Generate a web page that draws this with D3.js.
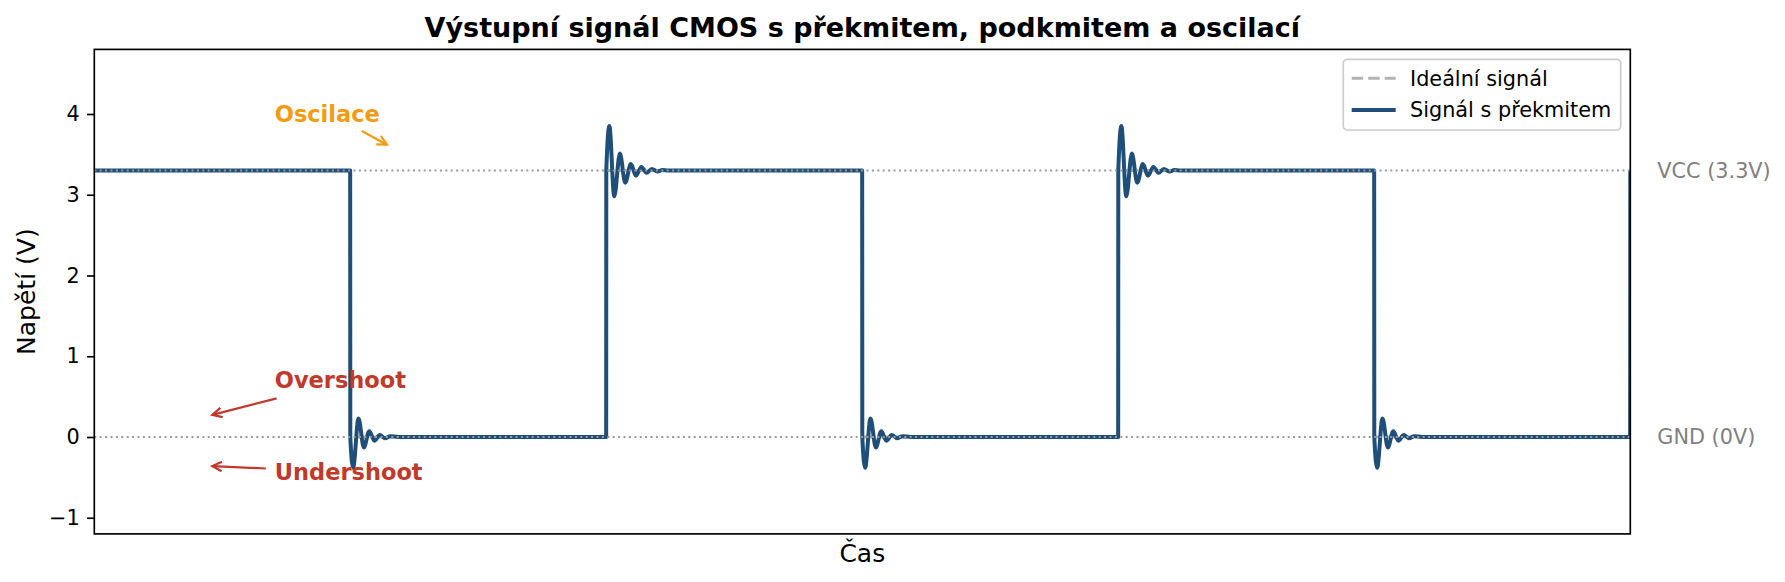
<!DOCTYPE html>
<html>
<head>
<meta charset="utf-8">
<script src="https://cdn.jsdelivr.net/npm/d3@7"></script>
<style>
  body { margin: 0; background: #fff; }
  svg { display: block; font-family: "DejaVu Sans", sans-serif; }
</style>
</head>
<body>
<div id="graph"></div>
<script>
// signal levels (V)
var levelHigh = 3.3;
var levelLow = 0;

// switching edges (time units, one half period = 1)
var edgeTimes = [1, 2, 3, 4, 5, 6];
var edgeKinds = ["fall", "rise", "fall", "rise", "fall", "rise"];

var riseRinging = [
  [0.000, 3.30], [0.012, 3.85], [0.031, 2.98], [0.053, 3.51], [0.074, 3.15],
  [0.096, 3.38], [0.116, 3.235], [0.137, 3.345], [0.157, 3.272], [0.178, 3.32],
  [0.199, 3.288], [0.219, 3.305], [0.242, 3.30]
];

var fallRinging = [
  [0.000, 0.00], [0.011, -0.38], [0.032, 0.23], [0.053, -0.13], [0.074, 0.07],
  [0.094, -0.045], [0.115, 0.025], [0.136, -0.016], [0.156, 0.01], [0.188, 0.00]
];

// y axis ticks
var yTicks = [-1, 0, 1, 2, 3, 4];

// set the dimensions of the graph
var svgWidth = 1785, svgHeight = 582;
var plotLeft = 94.3, plotRight = 1630.3, plotTop = 49.4, plotBottom = 533.9;

// set the ranges
var graphX = d3.scaleLinear().domain([0, 6]).range([plotLeft, plotRight]);
var graphY = d3.scaleLinear().domain([-1.2, 4.8]).range([plotBottom, plotTop]);

// build the ideal square wave and the real signal from the readings
var idealData = [[0, levelHigh]];
var signalData = [[0, levelHigh]];
var level = levelHigh;
edgeTimes.forEach(function(t, i) {
  var next = edgeKinds[i] == "rise" ? levelHigh : levelLow;
  idealData.push([t, level]);
  idealData.push([t, next]);
  signalData.push([t - 0.0005, level]);
  if (t < 6) {
    var ring = edgeKinds[i] == "rise" ? riseRinging : fallRinging;
    ring.forEach(function(p) { signalData.push([t + p[0], p[1]]); });
  } else {
    signalData.push([t, next]);
  }
  level = next;
});

var idealLine = d3.line()
  .x(function(d) { return graphX(d[0]); })
  .y(function(d) { return graphY(d[1]); });

var signalLine = d3.line()
  .curve(d3.curveMonotoneX)
  .x(function(d) { return graphX(d[0]); })
  .y(function(d) { return graphY(d[1]); });

var svg = d3.select("#graph")
  .append("svg")
  .attr("width", svgWidth)
  .attr("height", svgHeight);

svg.append("defs").append("clipPath")
  .attr("id", "plot_clip")
  .append("rect")
  .attr("x", plotLeft)
  .attr("y", plotTop)
  .attr("width", plotRight - plotLeft)
  .attr("height", plotBottom - plotTop);

var plot = svg.append("g").attr("clip-path", "url(#plot_clip)");

// ideal signal (dashed, underneath)
plot.append("path")
  .datum(idealData)
  .attr("fill", "none")
  .attr("stroke", "#b3b3b3")
  .attr("stroke-width", 3)
  .attr("stroke-dasharray", "11.5,5")
  .attr("d", idealLine);

// signal with overshoot
plot.append("path")
  .datum(signalData)
  .attr("fill", "none")
  .attr("stroke", "#1f4e79")
  .attr("stroke-width", 4)
  .attr("stroke-linejoin", "round")
  .attr("d", signalLine);

// vcc and gnd reference lines
[levelHigh, levelLow].forEach(function(v) {
  plot.append("line")
    .attr("x1", plotLeft)
    .attr("x2", plotRight)
    .attr("y1", graphY(v))
    .attr("y2", graphY(v))
    .attr("stroke", "#999999")
    .attr("stroke-width", 2)
    .attr("stroke-dasharray", "2,3.4");
});

// reference labels outside the axes
svg.append("text")
  .attr("x", plotRight + 27)
  .attr("y", graphY(levelHigh))
  .attr("dy", "0.35em")
  .style("font-size", "20.8px")
  .style("fill", "#808080")
  .text("VCC (3.3V)");
svg.append("text")
  .attr("x", plotRight + 27)
  .attr("y", graphY(levelLow))
  .attr("dy", "0.35em")
  .style("font-size", "20.8px")
  .style("fill", "#808080")
  .text("GND (0V)");

// annotations with arrows
var notes = [
  { text: "Oscilace", color: "#f39c12", tx: 0.705, ty: 3.906, from: [1.045, 3.79], to: [1.143, 3.62] },
  { text: "Overshoot", color: "#c0392b", tx: 0.705, ty: 0.61, from: [0.712, 0.478], to: [0.461, 0.274] },
  { text: "Undershoot", color: "#c0392b", tx: 0.705, ty: -0.53, from: [0.67, -0.39], to: [0.461, -0.36] }
];

notes.forEach(function(n) {
  svg.append("text")
    .attr("x", graphX(n.tx))
    .attr("y", graphY(n.ty))
    .style("font-size", "22.5px")
    .style("font-weight", "bold")
    .style("fill", n.color)
    .text(n.text);

  var x1 = graphX(n.from[0]), y1 = graphY(n.from[1]);
  var x2 = graphX(n.to[0]), y2 = graphY(n.to[1]);
  var ang = Math.atan2(y2 - y1, x2 - x1);
  var hl = 9.5, hw = 4.8;
  svg.append("line")
    .attr("x1", x1).attr("y1", y1)
    .attr("x2", x2).attr("y2", y2)
    .attr("stroke", n.color)
    .attr("stroke-width", 2.2);
  svg.append("path")
    .attr("d", "M" + (x2 - hl * Math.cos(ang) + hw * Math.sin(ang)) + "," + (y2 - hl * Math.sin(ang) - hw * Math.cos(ang)) +
      "L" + x2 + "," + y2 +
      "L" + (x2 - hl * Math.cos(ang) - hw * Math.sin(ang)) + "," + (y2 - hl * Math.sin(ang) + hw * Math.cos(ang)))
    .attr("fill", "none")
    .attr("stroke", n.color)
    .attr("stroke-width", 2.2);
});

// add the Y Axis
var yAxis = svg.append("g")
  .attr("transform", "translate(" + plotLeft + ",0)")
  .call(d3.axisLeft(graphY).tickValues(yTicks).tickFormat(d3.format("d")).tickSize(7.3).tickPadding(7.3));
yAxis.select(".domain").remove();
yAxis.selectAll("line").attr("stroke", "#000").attr("stroke-width", 1.67);
yAxis.selectAll("text")
  .style("font-size", "20.8px")
  .style("font-family", "DejaVu Sans")
  .attr("fill", "#000");

// frame
svg.append("rect")
  .attr("x", plotLeft)
  .attr("y", plotTop)
  .attr("width", plotRight - plotLeft)
  .attr("height", plotBottom - plotTop)
  .attr("fill", "none")
  .attr("stroke", "#000")
  .attr("stroke-width", 1.67);

// legend
var legend = svg.append("g");
legend.append("rect")
  .attr("x", 1343.3)
  .attr("y", 59.3)
  .attr("width", 277.4)
  .attr("height", 70.7)
  .attr("rx", 4)
  .attr("fill", "#fff")
  .attr("fill-opacity", 0.8)
  .attr("stroke", "#cccccc")
  .attr("stroke-width", 1.67);
legend.append("line")
  .attr("x1", 1351.7).attr("x2", 1395.7)
  .attr("y1", 78.3).attr("y2", 78.3)
  .attr("stroke", "#b3b3b3")
  .attr("stroke-width", 3)
  .attr("stroke-dasharray", "11.5,5");
legend.append("line")
  .attr("x1", 1351.7).attr("x2", 1395.7)
  .attr("y1", 110).attr("y2", 110)
  .attr("stroke", "#1f4e79")
  .attr("stroke-width", 4);
legend.append("text")
  .attr("x", 1410).attr("y", 78.3).attr("dy", "0.35em")
  .style("font-size", "20.8px")
  .text("Ideální signál");
legend.append("text")
  .attr("x", 1410).attr("y", 110).attr("dy", "0.35em")
  .style("font-size", "20.8px")
  .text("Signál s překmitem");

// title and axis labels
svg.append("text")
  .attr("x", (plotLeft + plotRight) / 2)
  .attr("y", 36.7)
  .attr("text-anchor", "middle")
  .style("font-size", "27px")
  .style("font-weight", "bold")
  .text("Výstupní signál CMOS s překmitem, podkmitem a oscilací");

svg.append("text")
  .attr("x", (plotLeft + plotRight) / 2)
  .attr("y", 562.3)
  .attr("text-anchor", "middle")
  .style("font-size", "25px")
  .text("Čas");

svg.append("text")
  .attr("transform", "translate(35," + (plotTop + plotBottom) / 2 + ") rotate(-90)")
  .attr("text-anchor", "middle")
  .style("font-size", "25px")
  .text("Napětí (V)");
</script>
</body>
</html>
